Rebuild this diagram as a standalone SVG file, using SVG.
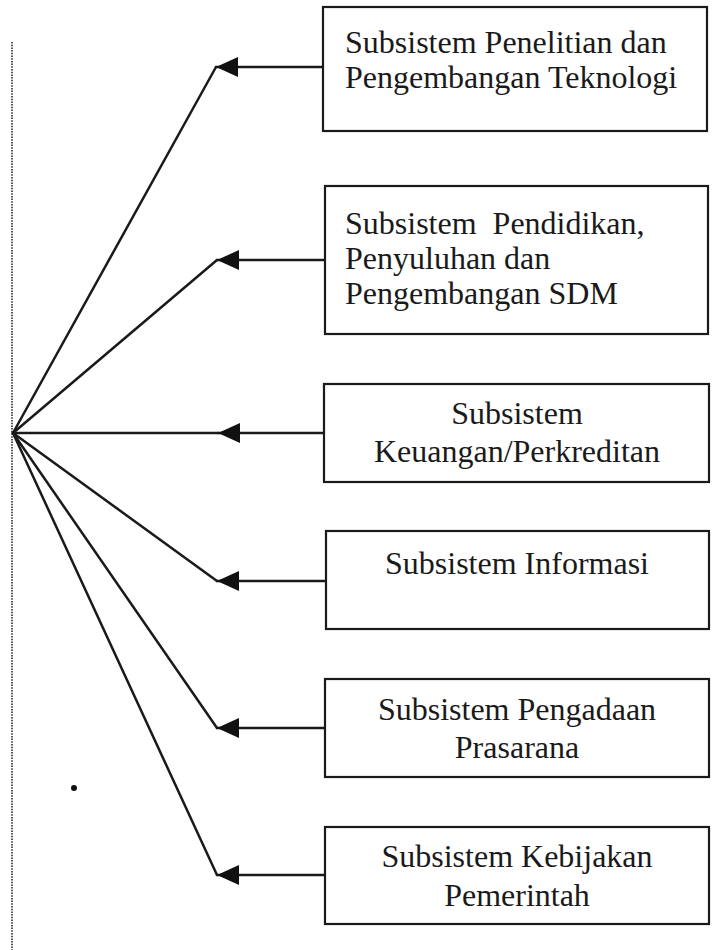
<svg xmlns="http://www.w3.org/2000/svg" width="715" height="950" viewBox="0 0 715 950">
  <style>
    .box { fill: #ffffff; stroke: #1a1a1a; stroke-width: 2.2; }
    .lbl { font-family: "Liberation Serif", "Times New Roman", serif; font-size: 32px; fill: #1a1a1a; }
    .mid { text-anchor: middle; }
    .wire { fill: none; stroke: #1a1a1a; stroke-width: 2.5; stroke-linecap: round; }
    .rule { fill: none; stroke: #555555; stroke-width: 2; stroke-dasharray: 1.5 1.2; }
  </style>
  <defs>
    <marker id="head" markerUnits="userSpaceOnUse" markerWidth="24" markerHeight="22" refX="22" refY="10" orient="auto">
      <path d="M0,0 L22,10 L0,20 Z" fill="#111111"/>
    </marker>
  </defs>
  <rect width="715" height="950" fill="#ffffff"/>

  <!-- dotted margin rule -->
  <line class="rule" x1="12" y1="42" x2="12" y2="950"/>

  <!-- connectors: each box feeds a shared hub at the left -->
  <g id="connectors">
    <line class="wire" x1="323" y1="67" x2="216" y2="67" marker-end="url(#head)"/>
    <line class="wire" x1="216" y1="67" x2="13" y2="433"/>

    <line class="wire" x1="325" y1="260" x2="217" y2="260" marker-end="url(#head)"/>
    <line class="wire" x1="217" y1="260" x2="13" y2="433"/>

    <line class="wire" x1="324" y1="433" x2="218" y2="433" marker-end="url(#head)"/>
    <line class="wire" x1="218" y1="433" x2="13" y2="433"/>

    <line class="wire" x1="326" y1="581" x2="217" y2="581" marker-end="url(#head)"/>
    <line class="wire" x1="217" y1="581" x2="13" y2="433"/>

    <line class="wire" x1="325" y1="728" x2="217" y2="728" marker-end="url(#head)"/>
    <line class="wire" x1="217" y1="728" x2="13" y2="433"/>

    <line class="wire" x1="325" y1="875" x2="217" y2="875" marker-end="url(#head)"/>
    <line class="wire" x1="217" y1="875" x2="13" y2="433"/>
  </g>

  <g id="node-teknologi">
    <rect class="box" x="323" y="7" width="384" height="124"/>
    <text class="lbl" x="345" y="53">Subsistem Penelitian dan</text>
    <text class="lbl" x="345" y="88">Pengembangan Teknologi</text>
  </g>

  <g id="node-sdm">
    <rect class="box" x="325" y="186" width="383" height="148"/>
    <text class="lbl" x="345" y="234" xml:space="preserve">Subsistem  Pendidikan,</text>
    <text class="lbl" x="345" y="269">Penyuluhan dan</text>
    <text class="lbl" x="345" y="304">Pengembangan SDM</text>
  </g>

  <g id="node-keuangan">
    <rect class="box" x="324" y="384" width="385" height="98"/>
    <text class="lbl mid" x="517" y="424">Subsistem</text>
    <text class="lbl mid" x="517" y="462">Keuangan/Perkreditan</text>
  </g>

  <g id="node-informasi">
    <rect class="box" x="326" y="531" width="383" height="98"/>
    <text class="lbl mid" x="517" y="574">Subsistem Informasi</text>
  </g>

  <g id="node-prasarana">
    <rect class="box" x="325" y="679" width="384" height="98"/>
    <text class="lbl mid" x="517" y="720">Subsistem Pengadaan</text>
    <text class="lbl mid" x="517" y="758">Prasarana</text>
  </g>

  <g id="node-kebijakan">
    <rect class="box" x="325" y="827" width="384" height="97"/>
    <text class="lbl mid" x="517" y="867">Subsistem Kebijakan</text>
    <text class="lbl mid" x="517" y="906">Pemerintah</text>
  </g>

  <!-- stray dot -->
  <circle cx="74" cy="788" r="3" fill="#111111"/>
</svg>
